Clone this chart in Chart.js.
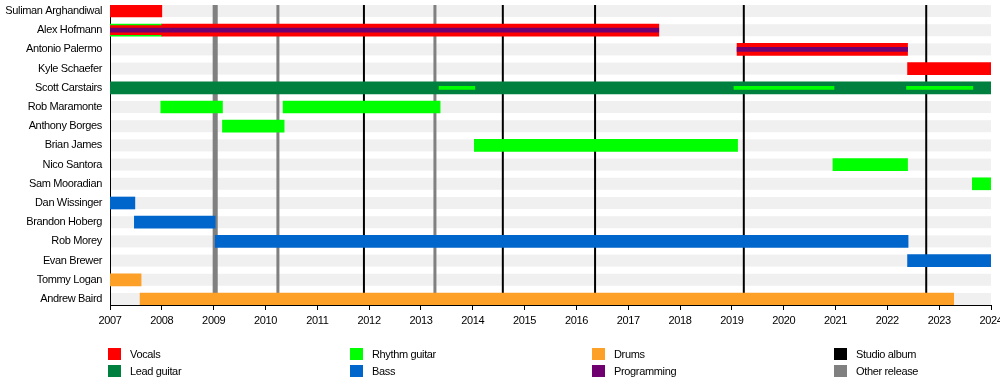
<!DOCTYPE html>
<html>
<head>
<meta charset="utf-8">
<script src="https://cdn.jsdelivr.net/npm/chart.js@4"></script>
<style>
  html, body { margin: 0; padding: 0; background: #fff; }
  canvas { display: block; }
</style>
</head>
<body>
<canvas id="timeline" width="1000" height="385"></canvas>
<script>
// band members, top to bottom
const members = [
   "Suliman Arghandiwal", "Alex Hofmann", "Antonio Palermo", "Kyle Schaefer",
   "Scott Carstairs", "Rob Maramonte", "Anthony Borges", "Brian James",
   "Nico Santora", "Sam Mooradian", "Dan Wissinger", "Brandon Hoberg",
   "Rob Morey", "Evan Brewer", "Tommy Logan", "Andrew Baird",
];

const years = [2007, 2008, 2009, 2010, 2011, 2012, 2013, 2014, 2015, 2016,
   2017, 2018, 2019, 2020, 2021, 2022, 2023, 2024];

// [member, from, to]
const vocals = [
   ["Suliman Arghandiwal", 2007, 2008],
   ["Alex Hofmann", 2008, 2017.59],
   ["Antonio Palermo", 2019.1, 2022.39],
   ["Kyle Schaefer", 2022.39, 2024],
];
const vocalsShared = [["Alex Hofmann", 2007, 2008]];
const leadGuitar = [["Scott Carstairs", 2007, 2024]];
const rhythmGuitar = [
   ["Alex Hofmann", 2007, 2008],
   ["Rob Maramonte", 2007.98, 2009.17],
   ["Rob Maramonte", 2010.34, 2013.37],
   ["Anthony Borges", 2009.17, 2010.36],
   ["Brian James", 2014.03, 2019.11],
   ["Nico Santora", 2020.95, 2022.39],
   ["Sam Mooradian", 2023.64, 2024],
];
const rhythmGuitarShared = [
   ["Scott Carstairs", 2013.35, 2014.04],
   ["Scott Carstairs", 2019.04, 2020.97],
   ["Scott Carstairs", 2022.37, 2023.65],
];
const bass = [
   ["Dan Wissinger", 2007, 2007.48],
   ["Brandon Hoberg", 2007.47, 2009.03],
   ["Rob Morey", 2009.03, 2022.4],
   ["Evan Brewer", 2022.39, 2024],
];
const drums = [
   ["Tommy Logan", 2007, 2007.6],
   ["Andrew Baird", 2007.58, 2023.28],
];
const programming = [
   ["Alex Hofmann", 2007, 2017.59],
   ["Antonio Palermo", 2019.1, 2022.39],
];

const studioAlbums = [2011.9, 2014.58, 2016.36, 2019.23, 2022.75];
const otherReleases = [2009.01, 2009.05, 2010.24, 2013.27];

const COLORS = {
   vocals: "rgb(255, 0, 0)",
   leadGuitar: "rgb(0, 128, 62)",
   rhythmGuitar: "rgb(0, 255, 0)",
   bass: "rgb(0, 102, 204)",
   drums: "rgb(252, 160, 40)",
   programming: "rgb(112, 0, 112)",
   studio: "rgb(0, 0, 0)",
   other: "rgb(128, 128, 128)",
   stripe: "rgb(240, 240, 240)",
};

const legendEntries = [
   ["Vocals", COLORS.vocals],
   ["Lead guitar", COLORS.leadGuitar],
   ["Rhythm guitar", COLORS.rhythmGuitar],
   ["Bass", COLORS.bass],
   ["Drums", COLORS.drums],
   ["Programming", COLORS.programming],
   ["Studio album", COLORS.studio],
   ["Other release", COLORS.other],
];

const FONT = "'Liberation Sans', Arial, sans-serif";

const toPoints = (spans) =>
   spans.map(([name, from, to]) => ({ y: members.indexOf(name), x: [from, to] }));

const makeDataset = (label, spans, color, thickness, order) => ({
   label,
   data: toPoints(spans),
   backgroundColor: color,
   borderWidth: 0,
   barThickness: thickness,
   grouped: false,
   order,
});

// slightly tighter text, like the original rendering
const tightText = {
   id: "tightText",
   beforeDraw(chart) {
      chart.ctx.letterSpacing = "-0.35px";
   },
};

// row stripes and release lines, under the bars
const backdrop = {
   id: "backdrop",
   beforeDatasetsDraw(chart) {
      const { ctx, chartArea, scales: { x, y } } = chart;
      ctx.save();
      ctx.fillStyle = COLORS.stripe;
      members.forEach((m, i) => {
         const py = y.getPixelForValue(i);
         ctx.fillRect(chartArea.left + 1, py - 6, chartArea.right - chartArea.left - 1, 12);
      });
      const drawLines = (dates, color, width) => {
         ctx.strokeStyle = color;
         ctx.lineWidth = width;
         dates.forEach((d) => {
            const px = x.getPixelForValue(d);
            ctx.beginPath();
            ctx.moveTo(px, chartArea.top);
            ctx.lineTo(px, chartArea.bottom);
            ctx.stroke();
         });
      };
      drawLines(otherReleases, COLORS.other, 3);
      drawLines(studioAlbums, COLORS.studio, 2);
      ctx.restore();
   },
};

const legendBox = {
   id: "legendBox",
   afterDraw(chart) {
      const { ctx } = chart;
      ctx.save();
      ctx.font = "11px " + FONT;
      ctx.textBaseline = "middle";
      legendEntries.forEach(([label, color], i) => {
         const left = 108 + Math.floor(i / 2) * 242;
         const top = 348 + (i % 2) * 17;
         ctx.fillStyle = color;
         ctx.fillRect(left, top, 13, 12);
         ctx.fillStyle = "#000";
         ctx.fillText(label, left + 22, top + 6.5);
      });
      ctx.restore();
   },
};

Chart.defaults.font.family = FONT;
Chart.defaults.font.size = 11;
Chart.defaults.color = "#000";

new Chart(document.getElementById("timeline"), {
   type: "bar",
   data: {
      datasets: [
         makeDataset("Programming", programming, COLORS.programming, 4, 1),
         makeDataset("Rhythm guitar", rhythmGuitarShared, COLORS.rhythmGuitar, 3, 1),
         makeDataset("Vocals", vocalsShared, COLORS.vocals, 9, 2),
         makeDataset("Vocals", vocals, COLORS.vocals, 12, 3),
         makeDataset("Lead guitar", leadGuitar, COLORS.leadGuitar, 12, 3),
         makeDataset("Rhythm guitar", rhythmGuitar, COLORS.rhythmGuitar, 12, 3),
         makeDataset("Bass", bass, COLORS.bass, 12, 3),
         makeDataset("Drums", drums, COLORS.drums, 12, 3),
      ],
   },
   options: {
      indexAxis: "y",
      responsive: false,
      animation: false,
      events: [],
      layout: { padding: { top: 5, right: 9, left: 0, bottom: 0 } },
      plugins: { legend: { display: false }, tooltip: { enabled: false } },
      scales: {
         x: {
            type: "linear",
            min: years[0],
            max: years[years.length - 1],
            grid: { drawOnChartArea: false, tickLength: 5, color: "#000" },
            border: { color: "#000", width: 1 },
            ticks: {
               stepSize: 1,
               autoSkip: false,
               maxRotation: 0,
               padding: 4,
               callback: (v) => String(v),
            },
            afterBuildTicks: (axis) => {
               axis.ticks = years.map((v) => ({ value: v }));
            },
            afterFit: (axis) => {
               axis.height = 80;
               axis.paddingLeft = 0;
               axis.paddingRight = 0;
            },
         },
         y: {
            type: "linear",
            reverse: true,
            offset: false,
            bounds: "data",
            min: -0.3125,
            max: members.length - 1 + 0.3125,
            grid: { display: false, drawTicks: false },
            border: { color: "#000", width: 1 },
            ticks: {
               autoSkip: false,
               padding: 8,
               callback: (v) => members[v],
            },
            afterBuildTicks: (axis) => {
               axis.ticks = members.map((m, i) => ({ value: i }));
            },
            afterFit: (axis) => {
               axis.width = 110;
               axis.paddingTop = 0;
               axis.paddingBottom = 0;
            },
         },
      },
   },
   plugins: [tightText, backdrop, legendBox],
});
</script>
</body>
</html>
